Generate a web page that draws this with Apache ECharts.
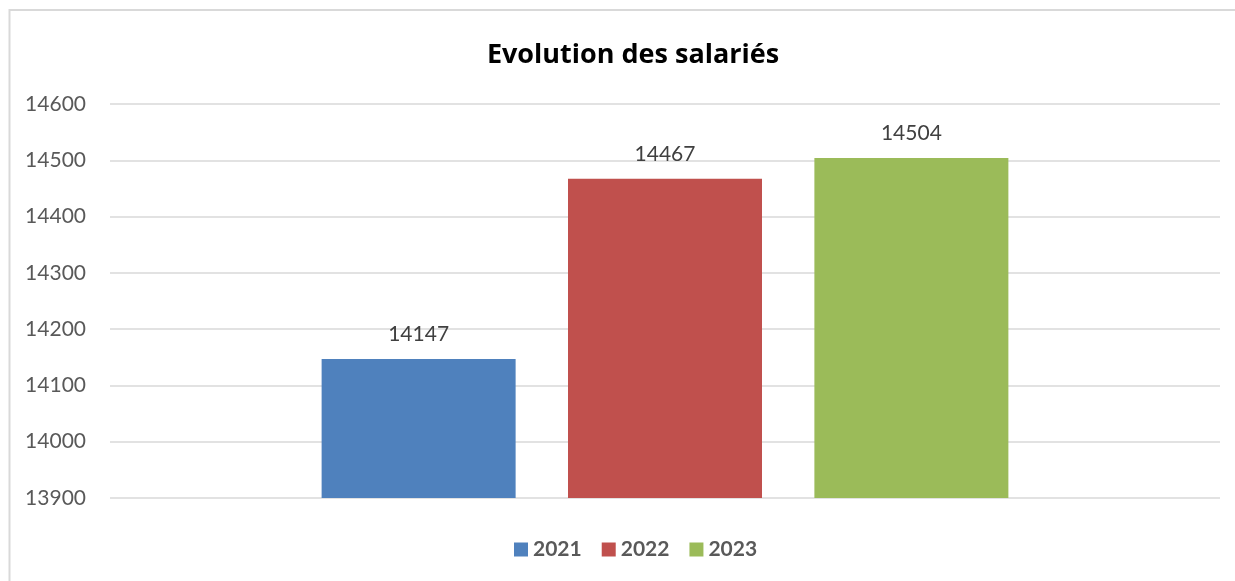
<html>
<head>
    <script src="https://cdn.jsdelivr.net/npm/echarts@6/dist/echarts.min.js"></script>
</head>
<body style="margin:0">
    <div id="main" style="width: 1235px;height:581px;"></div>
    <script>
        var categories = [''];
        var years = ['2021', '2022', '2023'];
        var values = [14147, 14467, 14504];
        var colors = ['#4F81BD', '#C0504D', '#9BBB59'];
        var yMin = 13900, yMax = 14600, yStep = 100;

        var myChart = echarts.init(document.getElementById('main'));

        var series = [];
        for (var i = 0; i < years.length; i++) {
            series.push({
                name: years[i],
                type: 'bar',
                data: [values[i]],
                barWidth: 194,
                barGap: '27%',
                itemStyle: { color: colors[i] },
                label: {
                    show: true,
                    position: 'top',
                    distance: 14,
                    color: '#404040',
                    fontFamily: 'Lato',
                    fontSize: 21
                }
            });
        }

        var option = {
            animation: false,
            backgroundColor: '#fff',
            // only top and left edges of the frame are inside the picture
            graphic: [{
                type: 'polyline',
                shape: { points: [[9.5, 600], [9.5, 10], [1240, 10]] },
                style: { fill: null, stroke: '#d9d9d9', lineWidth: 2 },
                silent: true
            }],
            title: {
                text: 'Evolution des salariés',
                left: 628,
                top: 37,
                textAlign: 'center',
                textStyle: { fontFamily: 'Open Sans', fontSize: 27, fontWeight: 'bold', color: '#000' }
            },
            legend: {
                data: years,
                bottom: 16,
                left: 509,
                itemWidth: 14,
                itemHeight: 14,
                itemGap: 20,
                icon: 'rect',
                textStyle: { fontFamily: 'Lato', fontSize: 21, fontWeight: 'bold', color: '#595959' }
            },
            grid: { left: 110, right: 15, top: 104, bottom: 83 },
            xAxis: {
                type: 'category',
                data: categories,
                axisLine: { show: false },
                axisTick: { show: false },
                axisLabel: { show: false }
            },
            yAxis: {
                type: 'value',
                min: yMin,
                max: yMax,
                interval: yStep,
                axisLine: { show: false },
                axisTick: { show: false },
                axisLabel: {
                    color: '#595959', fontFamily: 'Lato', fontSize: 21, margin: 24,
                    formatter: function (v) { return String(v); }
                },
                splitLine: { lineStyle: { color: '#d9d9d9', width: 1.5 } }
            },
            series: series
        };

        myChart.setOption(option);
    </script>
</body>
</html>
